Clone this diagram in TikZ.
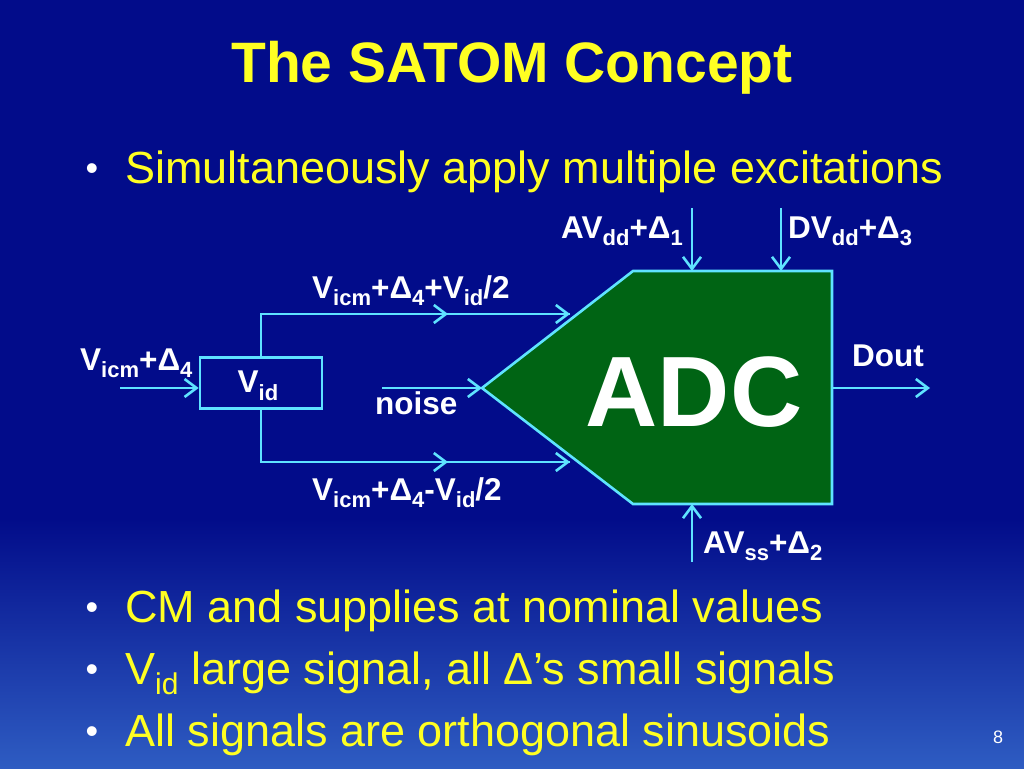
\documentclass[tikz,border=0pt]{standalone}
\usepackage{fontspec}
\setmainfont{Liberation Sans}
\usetikzlibrary{arrows.meta}
\definecolor{bgtop}{HTML}{020C8A}
\definecolor{bgbot}{HTML}{2E5CC2}
\definecolor{ln}{HTML}{5FE3FF}
\definecolor{adcg}{HTML}{006414}
\definecolor{yel}{HTML}{FFFF22}
\newcommand\sbs[1]{\raisebox{-0.45ex}{\fontsize{22}{22}\selectfont #1}}
\newcommand\sbb[1]{\raisebox{-0.45ex}{\fontsize{30}{30}\selectfont #1}}
\tikzset{
 wire/.style={draw=ln,line width=2.6pt},
 arr/.style={wire,-{Straight Barb[length=12pt,width=18pt,line width=2.6pt]}},
 lbl/.style={text=white,font=\fontsize{31.5}{31.5}\selectfont\bfseries,inner sep=0pt},
 bul/.style={text=yel,font=\fontsize{45}{45}\selectfont,anchor=base west,inner sep=0pt},
 dot/.style={text=white,font=\fontsize{36}{36}\selectfont,anchor=base,inner sep=0pt}
}
\begin{document}
\begin{tikzpicture}[x=1pt,y=-1pt]
\useasboundingbox (0,0) rectangle (1024,768);
\fill[bgtop] (0,0) rectangle (1024,520);
\shade[top color=bgtop,bottom color=bgbot] (0,519) rectangle (1024,768);
\node[text=yel,font=\fontsize{57}{57}\selectfont\bfseries,inner sep=0pt] (title) at (512,68) {The SATOM Concept};
\node[bul] (b1) at (125,183) {Simultaneously apply multiple excitations};
\node[bul] (b2) at (125,622) {CM and supplies at nominal values};
\node[bul] (b3) at (125,684) {V\sbb{id} large signal, all Δ’s small signals};
\node[bul] (b4) at (125,746) {All signals are orthogonal sinusoids};
\foreach \y/\n in {180/d1,619/d2,681/d3,743/d4}{\node[dot] (\n) at (92,\y) {•};}
\node[text=white,font=\fontsize{18}{18}\selectfont,inner sep=0pt] (pg) at (998,737) {8};
% ADC
\draw[wire,fill=adcg] (482,388) -- (633,271) -- (832,271) -- (832,504) -- (633,504) -- cycle;
\node[text=white,font=\fontsize{100}{100}\selectfont\bfseries,inner sep=0pt] (adc) at (694,392) {ADC};
\coordinate (tip) at (482,388);
% box
\node[draw=ln,line width=2.6pt,minimum width=122pt,minimum height=51pt,inner sep=0pt] (box) at (261,383) {};
\node[lbl] (vid) at (258,386) {V\sbs{id}};
\coordinate (in0) at (120,388);
\draw[arr] (in0) -- (box.west|-in0);
\node[lbl,anchor=base west] (lin) at (80,370) {V\sbs{icm}+Δ\sbs{4}};
% branches
\coordinate (t0) at (261,314); \coordinate (t1) at (448,314); \coordinate (t2) at (570,314);
\coordinate (u0) at (261,462); \coordinate (u1) at (448,462); \coordinate (u2) at (570,462);
\draw[wire] (box.north-|t0) -- (t0) -- (t2);
\draw[arr] (t0) -- (t1); \draw[arr] (t1) -- (t2);
\draw[wire] (box.south-|u0) -- (u0) -- (u2);
\draw[arr] (u0) -- (u1); \draw[arr] (u1) -- (u2);
\node[lbl,anchor=base west] (lt) at (312,298) {V\sbs{icm}+Δ\sbs{4}+V\sbs{id}/2};
\node[lbl,anchor=base west] (lb) at (312,500) {V\sbs{icm}+Δ\sbs{4}-V\sbs{id}/2};
\coordinate (n0) at (382,388);
\draw[arr] (n0) -- (tip);
\node[lbl,anchor=base west] (noise) at (375,414) {noise};
% supplies
\coordinate (a0) at (692,208); \coordinate (a1) at (692,271);
\coordinate (d0) at (781,208); \coordinate (d1) at (781,271);
\coordinate (s0) at (692,562); \coordinate (s1) at (692,504);
\coordinate (o0) at (832,388); \coordinate (o1) at (930,388);
\draw[arr] (a0) -- (a1); \draw[arr] (d0) -- (d1); \draw[arr] (s0) -- (s1); \draw[arr] (o0) -- (o1);
\node[lbl,anchor=base west] (avdd) at (561,238) {AV\sbs{dd}+Δ\sbs{1}};
\node[lbl,anchor=base west] (dvdd) at (788,238) {DV\sbs{dd}+Δ\sbs{3}};
\node[lbl,anchor=base west] (avss) at (703,553) {AV\sbs{ss}+Δ\sbs{2}};
\node[lbl,anchor=base west] (dout) at (852,366) {Dout};
\end{tikzpicture}
\end{document}
